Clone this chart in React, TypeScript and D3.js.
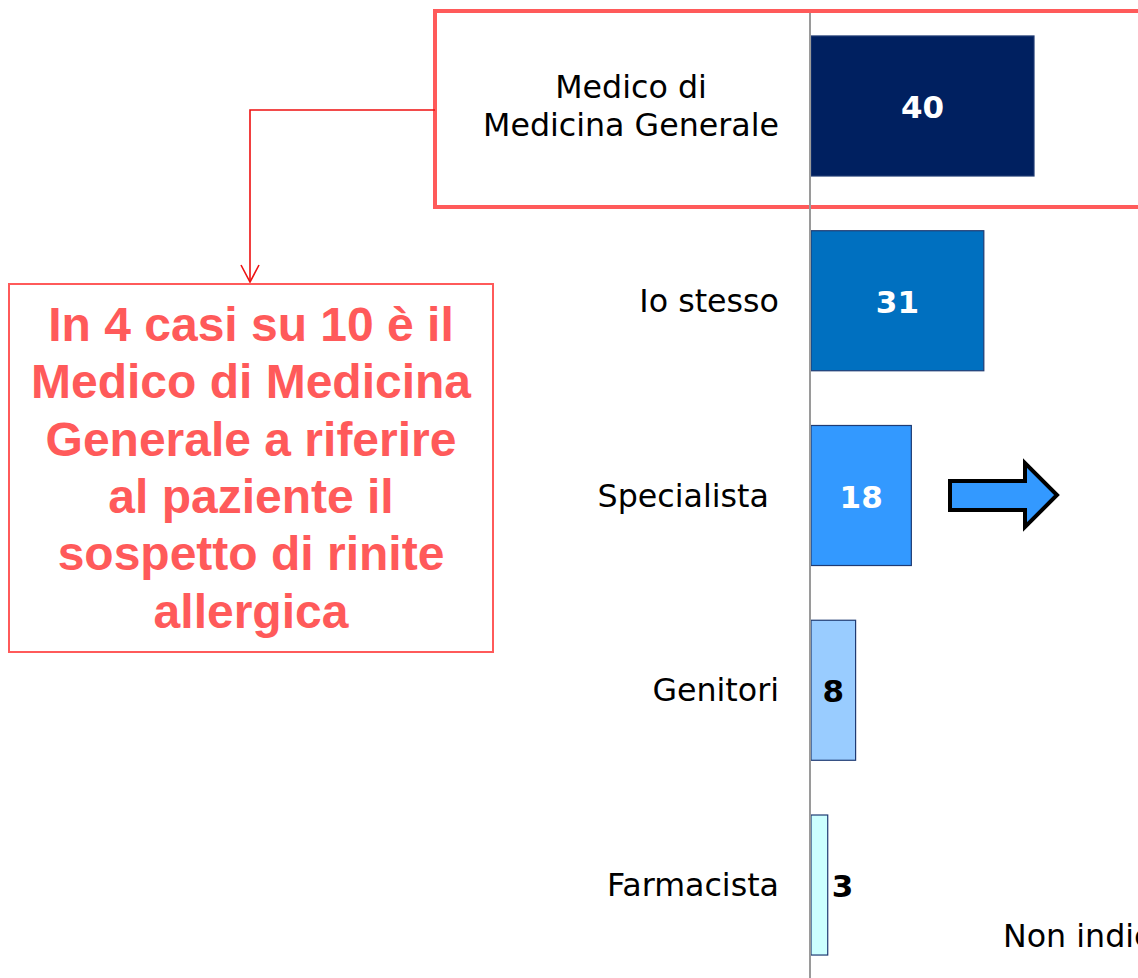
import { useEffect, useRef } from "react";
import * as d3 from "d3";

// who first suspected allergic rhinitis (%)
const categories = ["Medico di|Medicina Generale", "Io stesso", "Specialista\u00a0", "Genitori", "Farmacista"];
const values = [40, 31, 18, 8, 3];
const barColors = ["#002060", "#0070c0", "#3399ff", "#99ccff", "#ccffff"];
const valueColors = ["#ffffff", "#ffffff", "#ffffff", "#000000", "#000000"];
const calloutLines = [
    "In 4 casi su 10 è il",
    "Medico di Medicina",
    "Generale a riferire",
    "al paziente il",
    "sospetto di rinite",
    "allergica",
];
const cutLabel = "Non indicato";

const W = 1138;
const H = 978;

const App = () => {
    const chartRef = useRef<SVGSVGElement | null>(null);

    useEffect(() => {
        const svg = d3.select(chartRef.current);
        svg.selectAll("*").remove();

        const x = d3.scaleLinear().domain([0, 40]).range([811, 1034]);
        const y = d3.scaleBand()
            .domain(categories)
            .range([8.6, 982.4])
            .paddingInner(0.281)
            .paddingOuter(0.1405);

        const labelFont = "Verdana, 'DejaVu Sans', sans-serif";

        // highlight box round the first category
        svg.append("rect")
            .attr("x", 435)
            .attr("y", 11)
            .attr("width", 760)
            .attr("height", 196)
            .attr("fill", "none")
            .attr("stroke", "#ff5a5a")
            .attr("stroke-width", 4);

        // bars
        svg.selectAll(".bar")
            .data(values)
            .enter()
            .append("rect")
            .attr("class", "bar")
            .attr("x", x(0))
            .attr("y", (d, i) => y(categories[i])!)
            .attr("width", d => x(d) - x(0))
            .attr("height", y.bandwidth())
            .attr("fill", (d, i) => barColors[i])
            .attr("stroke", "#1f3b73")
            .attr("stroke-width", 1.2);

        // axis line
        svg.append("line")
            .attr("x1", 810)
            .attr("x2", 810)
            .attr("y1", 13)
            .attr("y2", H)
            .attr("stroke", "#9a9a9a")
            .attr("stroke-width", 2);

        // value labels
        svg.selectAll(".val")
            .data(values)
            .enter()
            .append("text")
            .attr("class", "val")
            .attr("x", d => d < 5 ? x(d) + 4 : (x(0) + x(d)) / 2)
            .attr("y", (d, i) => y(categories[i])! + y.bandwidth() / 2 + 12)
            .attr("text-anchor", d => d < 5 ? "start" : "middle")
            .style("font-family", labelFont)
            .style("font-weight", "bold")
            .style("font-size", "31px")
            .style("fill", (d, i) => valueColors[i])
            .text(d => d);

        // category labels
        categories.forEach(cat => {
            const lines = cat.split("|");
            const cy = y(cat)! + y.bandwidth() / 2;
            const g = svg.append("text")
                .style("font-family", labelFont)
                .style("font-size", "31.7px")
                .style("fill", "#000");
            const tspans = lines.map((ln, i) => g.append("tspan")
                .attr("y", cy + 11 + (i - (lines.length - 1) / 2) * 38)
                .text(ln));
            if (lines.length === 1) {
                g.attr("text-anchor", "end");
                tspans[0].attr("x", 779);
            } else {
                const widths = tspans.map(t => (t.node() as SVGTSpanElement).getComputedTextLength());
                const cx = 779 - d3.max(widths)! / 2;
                g.attr("text-anchor", "middle");
                tspans.forEach(t => t.attr("x", cx));
            }
        });

        svg.append("text")
            .attr("x", 1003)
            .attr("y", 947)
            .style("font-family", labelFont)
            .style("font-size", "31.7px")
            .style("fill", "#000")
            .text(cutLabel);

        // block arrow next to Specialista
        svg.append("path")
            .attr("d", "M950,481 L1025,481 L1025,463 L1057,495 L1025,527 L1025,510 L950,510 Z")
            .attr("fill", "#3399ff")
            .attr("stroke", "#000")
            .attr("stroke-width", 4)
            .attr("stroke-linejoin", "miter");

        // connector from highlight to callout
        svg.append("path")
            .attr("d", "M435,110 H250 V282")
            .attr("fill", "none")
            .attr("stroke", "#ee1111")
            .attr("stroke-width", 1.6);
        svg.append("path")
            .attr("d", "M241,265 L250,282 L259,265")
            .attr("fill", "none")
            .attr("stroke", "#ee1111")
            .attr("stroke-width", 1.6);

        // callout box
        svg.append("rect")
            .attr("x", 9)
            .attr("y", 284)
            .attr("width", 484)
            .attr("height", 368)
            .attr("fill", "#fff")
            .attr("stroke", "#ff5a5a")
            .attr("stroke-width", 2);

        svg.append("text")
            .attr("text-anchor", "middle")
            .style("font-family", "'Liberation Sans', Arial, sans-serif")
            .style("font-weight", "bold")
            .style("font-size", "48px")
            .style("fill", "#ff5a5a")
            .selectAll("tspan")
            .data(calloutLines)
            .enter()
            .append("tspan")
            .attr("x", 251)
            .attr("y", (d, i) => 341 + i * 57.3)
            .text(d => d);

        return () => {
            svg.selectAll("*").remove();
        };
    }, []);

    return (
        <svg
            ref={chartRef}
            width={W}
            height={H}
            style={{ position: "absolute", left: 0, top: 0, display: "block", background: "#fff" }}
        ></svg>
    );
};

export default App;
